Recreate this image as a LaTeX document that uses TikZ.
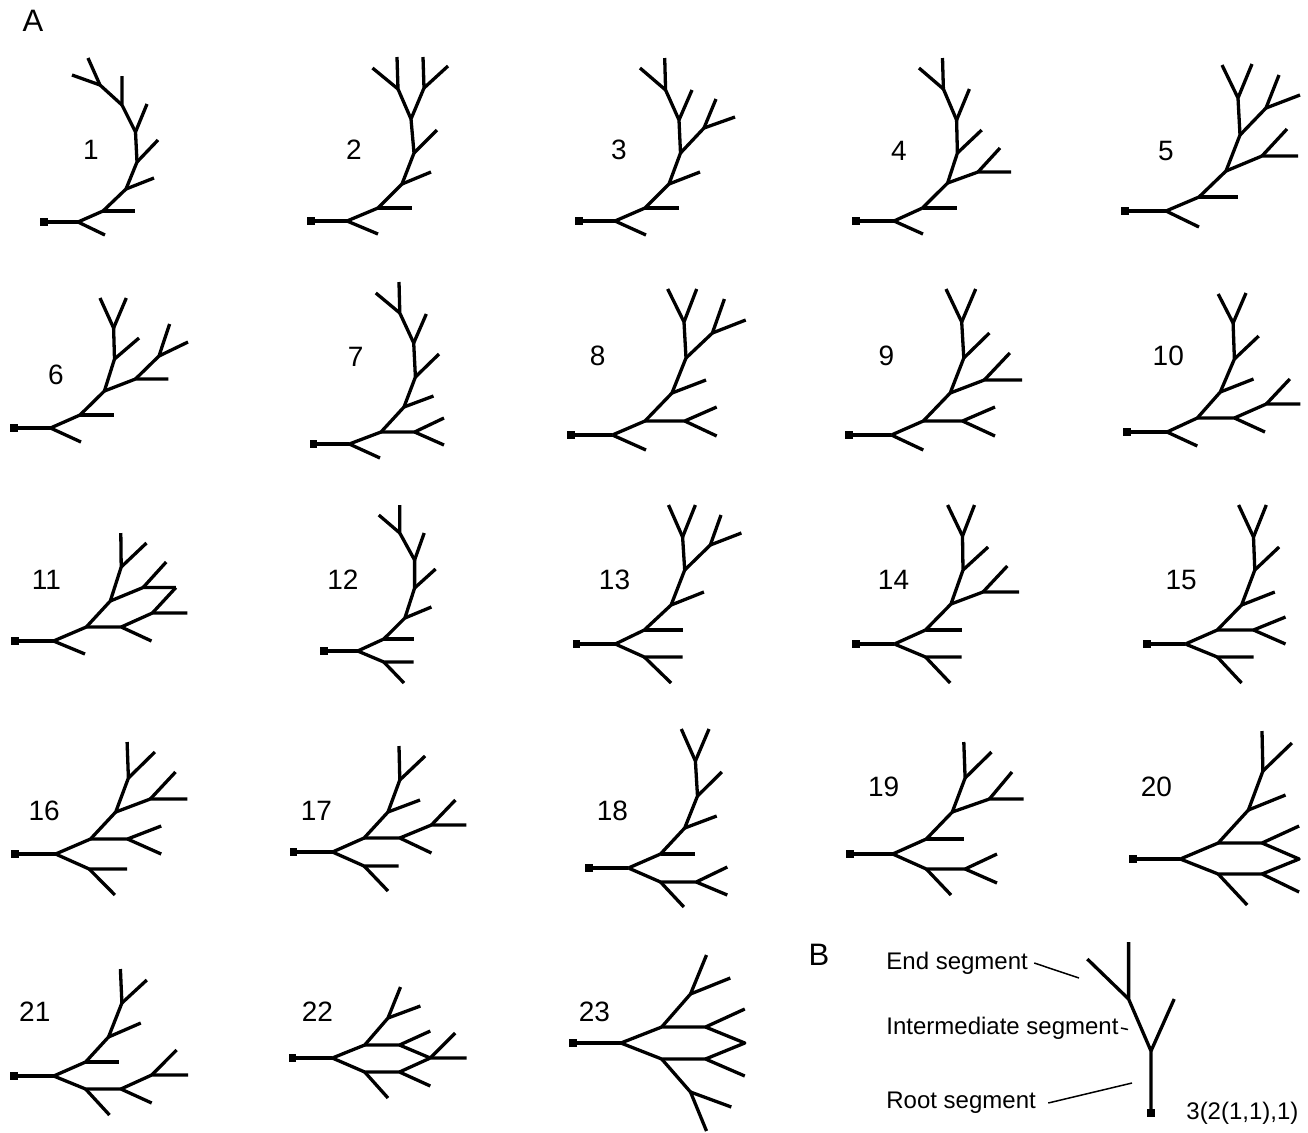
\documentclass[tikz,border=0pt]{standalone}
\usepackage{fontspec}
\setmainfont{Liberation Sans}
\begin{document}
\begin{tikzpicture}[x=0.5pt,y=-0.5pt,
  br/.style={line width=1.65pt,line join=round,line cap=butt},
  rt/.style={line width=2pt},
  sq/.style={fill=black,draw=none,inner sep=0pt,minimum size=3.8pt},
  num/.style={font=\fontsize{14}{14}\selectfont,inner sep=0pt},
  panel/.style={font=\fontsize{15.5}{15.5}\selectfont,inner sep=0pt},
  lab/.style={font=\fontsize{12}{12}\selectfont,inner sep=0pt,anchor=west},
  lead/.style={line width=0.75pt}]
\useasboundingbox (0,0) rectangle (1308,1132);
\node[panel] (pA) at (33,21) {A};
\node[panel] (pB) at (819,955) {B};
% ---------- Tree 1
\node[num] (l1) at (91,150) {1};
\node[sq] (s1) at (44,222) {};
\draw[rt] (s1.center) -- (78,222);
\draw[br] (78,222) -- (103,211) -- (126,189) -- (137,162) -- (135.5,132) -- (122,105) -- (122,76);
\draw[br] (78,222) -- (105,235);
\draw[br] (103,211) -- (135,211);
\draw[br] (126,189) -- (154,178);
\draw[br] (137,162) -- (158,140);
\draw[br] (135.5,132) -- (147,104);
\draw[br] (122,105) -- (100,85) -- (88,58);
\draw[br] (100,85) -- (72,75);
% ---------- Tree 2
\node[num] (l2) at (354,150) {2};
\node[sq] (s2) at (311,221) {};
\draw[rt] (s2.center) -- (347,221);
\draw[br] (347,221) -- (378,208) -- (402,184) -- (414,153) -- (411,119) -- (398,89) -- (397,57);
\draw[br] (347,221) -- (378,234);
\draw[br] (378,208) -- (412,208);
\draw[br] (402,184) -- (431,172);
\draw[br] (414,153) -- (437,130);
\draw[br] (411,119) -- (424,88) -- (423,57);
\draw[br] (424,88) -- (448,66);
\draw[br] (398,89) -- (372.5,68);
% ---------- Tree 3
\node[num] (l3) at (619,150) {3};
\node[sq] (s3) at (579,221) {};
\draw[rt] (s3.center) -- (615,221);
\draw[br] (615,221) -- (645,208) -- (669,184) -- (680.5,153) -- (679,120) -- (665.6,90) -- (664.7,58);
\draw[br] (615,221) -- (646,235);
\draw[br] (645,208) -- (679,208);
\draw[br] (669,184) -- (700,172);
\draw[br] (680.5,153) -- (704,128) -- (716,99);
\draw[br] (704,128) -- (735,117);
\draw[br] (679,120) -- (692,90);
\draw[br] (665.6,90) -- (640,68);
% ---------- Tree 4
\node[num] (l4) at (899,151) {4};
\node[sq] (s4) at (856,221) {};
\draw[rt] (s4.center) -- (894,221);
\draw[br] (894,221) -- (922.5,208) -- (947.6,183) -- (957.4,153) -- (956.6,120) -- (943.4,89) -- (942.5,58);
\draw[br] (894,221) -- (923,234);
\draw[br] (922.5,208) -- (956.6,208);
\draw[br] (947.6,183) -- (978,172) -- (1011,172);
\draw[br] (978,172) -- (1000,148);
\draw[br] (957.4,153) -- (981.7,130);
\draw[br] (956.6,120) -- (969.4,89);
\draw[br] (943.4,89) -- (919,68);
% ---------- Tree 5
\node[num] (l5) at (1166,151) {5};
\node[sq] (s5) at (1125,211) {};
\draw[rt] (s5.center) -- (1166,211);
\draw[br] (1166,211) -- (1199,197) -- (1226,171) -- (1240,135) -- (1238,98) -- (1222,65);
\draw[br] (1166,211) -- (1199,227);
\draw[br] (1199,197) -- (1238,197);
\draw[br] (1226,171) -- (1262,156) -- (1298,156);
\draw[br] (1262,156) -- (1287,129);
\draw[br] (1240,135) -- (1266,108) -- (1279,75);
\draw[br] (1266,108) -- (1300,95);
\draw[br] (1238,98) -- (1252,64);
% ---------- Tree 6
\node[num] (l6) at (56,375) {6};
\node[sq] (s6) at (14,428) {};
\draw[rt] (s6.center) -- (50.5,428);
\draw[br] (50.5,428) -- (80,415) -- (104.4,391) -- (114.5,359) -- (113.6,328) -- (100,298);
\draw[br] (50.5,428) -- (81,442);
\draw[br] (80,415) -- (113.6,415);
\draw[br] (104.4,391) -- (135.5,379) -- (168.4,379);
\draw[br] (135.5,379) -- (159,356) -- (169.6,324);
\draw[br] (159,356) -- (188,342);
\draw[br] (114.5,359) -- (139,338);
\draw[br] (113.6,328) -- (126.3,298);
% ---------- Tree 7
\node[num] (l7) at (355.6,357) {7};
\node[sq] (s7) at (313.6,444) {};
\draw[rt] (s7.center) -- (349.3,444);
\draw[br] (349.3,444) -- (381,432) -- (404,407) -- (415.4,377) -- (413.7,343) -- (399.8,313) -- (399,282);
\draw[br] (349.3,444) -- (380,458);
\draw[br] (381,432) -- (414.6,432) -- (444,418);
\draw[br] (414.6,432) -- (444,445);
\draw[br] (404,407) -- (433.5,396);
\draw[br] (415.4,377) -- (439,354);
\draw[br] (413.7,343) -- (426.3,314);
\draw[br] (399.8,313) -- (375.8,293);
% ---------- Tree 8
\node[num] (l8) at (597.6,356) {8};
\node[sq] (s8) at (571,435) {};
\draw[rt] (s8.center) -- (612.4,435);
\draw[br] (612.4,435) -- (645,421) -- (672,393) -- (686,358) -- (684,322) -- (667.7,289);
\draw[br] (612.4,435) -- (646,450);
\draw[br] (645,421) -- (684.7,421) -- (716.7,407);
\draw[br] (684.7,421) -- (716.7,436);
\draw[br] (672,393) -- (706,380);
\draw[br] (686,358) -- (712.4,333) -- (724.4,299);
\draw[br] (712.4,333) -- (745.7,320);
\draw[br] (684,322) -- (696.7,289);
% ---------- Tree 9
\node[num] (l9) at (886.3,356) {9};
\node[sq] (s9) at (849,435) {};
\draw[rt] (s9.center) -- (891.4,435);
\draw[br] (891.4,435) -- (923.3,421) -- (950.2,393) -- (963.8,358) -- (961.7,322) -- (946,289);
\draw[br] (891.4,435) -- (923.3,450);
\draw[br] (923.3,421) -- (962.5,421) -- (995,407);
\draw[br] (962.5,421) -- (995,436);
\draw[br] (950.2,393) -- (984.3,380) -- (1022,380);
\draw[br] (984.3,380) -- (1009.8,353);
\draw[br] (963.8,358) -- (989.4,333);
\draw[br] (961.7,322) -- (975.7,289);
% ---------- Tree 10
\node[num] (l10) at (1168.3,356) {10};
\node[sq] (s10) at (1127,432) {};
\draw[rt] (s10.center) -- (1167,432);
\draw[br] (1167,432) -- (1197.3,418) -- (1220.3,392) -- (1234.4,359) -- (1233.1,323) -- (1218.2,294);
\draw[br] (1167,432) -- (1197.3,446);
\draw[br] (1197.3,418) -- (1234.4,418) -- (1265,432);
\draw[br] (1234.4,418) -- (1266.3,404) -- (1300.4,404);
\draw[br] (1266.3,404) -- (1289.8,379);
\draw[br] (1220.3,392) -- (1253.5,379);
\draw[br] (1234.4,359) -- (1258.7,336);
\draw[br] (1233.1,323) -- (1246,293);
% ---------- Tree 11
\node[num] (l11) at (46.3,580) {11};
\node[sq] (s11) at (14.7,641) {};
\draw[rt] (s11.center) -- (53.5,641);
\draw[br] (53.5,641) -- (86.3,627) -- (110.3,601) -- (121.2,567) -- (120.8,533);
\draw[br] (53.5,641) -- (85,654);
\draw[br] (86.3,627) -- (121.2,627) -- (151.5,641);
\draw[br] (121.2,627) -- (152.4,613) -- (187.3,613);
\draw[br] (152.4,613) -- (175.9,587.5);
\draw[br] (110.3,601) -- (143.1,587.5) -- (175.9,587.5);
\draw[br] (143.1,587.5) -- (166.2,562);
\draw[br] (121.2,567) -- (146.5,543);
% ---------- Tree 12
\node[num] (l12) at (343,580) {12};
\node[sq] (s12) at (324,651) {};
\draw[rt] (s12.center) -- (357.7,651);
\draw[br] (357.7,651) -- (383.8,639) -- (404.9,618) -- (414.6,588) -- (414.6,560) -- (399.8,533) -- (399.8,505);
\draw[br] (357.7,651) -- (383.8,662) -- (413.7,662);
\draw[br] (383.8,662) -- (404,683);
\draw[br] (383.8,639) -- (413.7,639);
\draw[br] (404.9,618) -- (431.4,607);
\draw[br] (414.6,588) -- (435.6,569);
\draw[br] (414.6,560) -- (424.2,533);
\draw[br] (399.8,533) -- (378.8,515);
% ---------- Tree 13
\node[num] (l13) at (614.5,580) {13};
\node[sq] (s13) at (576.6,644) {};
\draw[rt] (s13.center) -- (615.3,644);
\draw[br] (615.3,644) -- (644.3,630) -- (671.1,605) -- (684.7,570) -- (682.6,537) -- (668.5,505);
\draw[br] (615.3,644) -- (644.3,657) -- (682.6,657);
\draw[br] (644.3,657) -- (671.1,683);
\draw[br] (644.3,630) -- (682.6,630);
\draw[br] (671.1,605) -- (703.9,592);
\draw[br] (684.7,570) -- (710.3,545) -- (721,515);
\draw[br] (710.3,545) -- (741.4,533);
\draw[br] (682.6,537) -- (695.4,505);
% ---------- Tree 14
\node[num] (l14) at (893.5,580) {14};
\node[sq] (s14) at (856,644) {};
\draw[rt] (s14.center) -- (894.4,644);
\draw[br] (894.4,644) -- (925.5,630) -- (951,604) -- (963,570) -- (962.5,536) -- (947.6,505);
\draw[br] (894.4,644) -- (925.5,657) -- (961.7,657);
\draw[br] (925.5,657) -- (950.2,683);
\draw[br] (925.5,630) -- (961.7,630);
\draw[br] (951,604) -- (983,592) -- (1019.2,592);
\draw[br] (983,592) -- (1007.3,566);
\draw[br] (963,570) -- (988.1,547);
\draw[br] (962.5,536) -- (974.5,505);
% ---------- Tree 15
\node[num] (l15) at (1181.1,580) {15};
\node[sq] (s15) at (1147,644) {};
\draw[rt] (s15.center) -- (1185.4,644);
\draw[br] (1185.4,644) -- (1217.3,630) -- (1241.6,605) -- (1254.8,570) -- (1253.5,537) -- (1238.6,505);
\draw[br] (1185.4,644) -- (1217.3,657) -- (1253.5,657);
\draw[br] (1217.3,657) -- (1241.6,683);
\draw[br] (1217.3,630) -- (1253.5,630) -- (1285.5,617);
\draw[br] (1253.5,630) -- (1285.5,644);
\draw[br] (1241.6,605) -- (1274.8,592);
\draw[br] (1254.8,570) -- (1279.1,547);
\draw[br] (1253.5,537) -- (1266.3,505);
% ---------- Tree 16
\node[num] (l16) at (44.2,811) {16};
\node[sq] (s16) at (14.7,854) {};
\draw[rt] (s16.center) -- (55.6,854);
\draw[br] (55.6,854) -- (90.5,839) -- (115.7,812) -- (128.4,778) -- (127.1,742);
\draw[br] (55.6,854) -- (89.2,869) -- (127.1,869);
\draw[br] (89.2,869) -- (114.9,895);
\draw[br] (90.5,839) -- (127.5,839) -- (161.2,826);
\draw[br] (127.5,839) -- (161.2,854);
\draw[br] (115.7,812) -- (150.3,799) -- (187.3,799);
\draw[br] (150.3,799) -- (175.5,772);
\draw[br] (128.4,778) -- (154.9,752);
% ---------- Tree 17
\node[num] (l17) at (316.5,810.7) {17};
\node[sq] (s17) at (293.4,852) {};
\draw[rt] (s17.center) -- (332.5,852);
\draw[br] (332.5,852) -- (364.1,838) -- (388,812) -- (399.8,780) -- (399,746);
\draw[br] (332.5,852) -- (364.1,866) -- (398.6,866);
\draw[br] (364.1,866) -- (388,891);
\draw[br] (364.1,838) -- (399.8,838) -- (431.4,853);
\draw[br] (399.8,838) -- (431.4,825) -- (466.3,825);
\draw[br] (431.4,825) -- (455.4,800);
\draw[br] (388,812) -- (420,800);
\draw[br] (399.8,780) -- (425.1,756);
% ---------- Tree 18
\node[num] (l18) at (612.4,811) {18};
\node[sq] (s18) at (589.2,868) {};
\draw[rt] (s18.center) -- (628.4,868);
\draw[br] (628.4,868) -- (660.5,854) -- (684.7,828) -- (697.5,796) -- (695.4,761) -- (681.3,729);
\draw[br] (628.4,868) -- (660.5,882) -- (696.2,882) -- (727.3,867);
\draw[br] (696.2,882) -- (727.3,895);
\draw[br] (660.5,882) -- (683.9,907);
\draw[br] (660.5,854) -- (695.4,854);
\draw[br] (684.7,828) -- (716.7,816);
\draw[br] (697.5,796) -- (721.8,772);
\draw[br] (695.4,761) -- (709,729);
% ---------- Tree 19
\node[num] (l19) at (883.7,786.7) {19};
\node[sq] (s19) at (850,854) {};
\draw[rt] (s19.center) -- (892.7,854);
\draw[br] (892.7,854) -- (926.3,839) -- (952.3,812) -- (965.1,778) -- (963.8,742);
\draw[br] (892.7,854) -- (926.3,869) -- (965.1,869) -- (997,854);
\draw[br] (965.1,869) -- (997,883);
\draw[br] (926.3,869) -- (951,895);
\draw[br] (926.3,839) -- (963.8,839);
\draw[br] (952.3,812) -- (989.4,799) -- (1023.5,799);
\draw[br] (989.4,799) -- (1012,772);
\draw[br] (965.1,778) -- (991.5,752);
% ---------- Tree 20
\node[num] (l20) at (1156.4,786.7) {20};
\node[sq] (s20) at (1133,859) {};
\draw[rt] (s20.center) -- (1180.3,859);
\draw[br] (1180.3,859) -- (1218.2,843) -- (1248.4,810) -- (1262.9,771) -- (1262,731);
\draw[br] (1180.3,859) -- (1218.2,874) -- (1262,874) -- (1299.1,892);
\draw[br] (1262,874) -- (1299.1,859) -- (1262,843);
\draw[br] (1218.2,874) -- (1247.2,905);
\draw[br] (1218.2,843) -- (1262,843) -- (1299.1,826);
\draw[br] (1248.4,810) -- (1285.5,795);
\draw[br] (1262.9,771) -- (1291.9,743);
% ---------- Tree 21
\node[num] (l21) at (34.8,1011.7) {21};
\node[sq] (s21) at (13.9,1076) {};
\draw[rt] (s21.center) -- (53.7,1076);
\draw[br] (53.7,1076) -- (85.6,1062) -- (108.5,1037) -- (121.9,1003) -- (120.4,969);
\draw[br] (53.7,1076) -- (85.6,1089) -- (120.9,1089) -- (151.7,1103);
\draw[br] (120.9,1089) -- (151.7,1075) -- (188,1075);
\draw[br] (151.7,1075) -- (176.6,1050);
\draw[br] (85.6,1089) -- (109.5,1115);
\draw[br] (85.6,1062) -- (119.4,1062);
\draw[br] (108.5,1037) -- (140.8,1023);
\draw[br] (121.9,1003) -- (146.8,980);
% ---------- Tree 22
\node[num] (l22) at (317.4,1011.7) {22};
\node[sq] (s22) at (292.5,1058) {};
\draw[rt] (s22.center) -- (332.3,1058);
\draw[br] (332.3,1058) -- (364.7,1045) -- (388,1018) -- (400.5,987);
\draw[br] (332.3,1058) -- (364.7,1072) -- (399.5,1072) -- (430.3,1086);
\draw[br] (399.5,1072) -- (430.3,1058) -- (466.7,1058);
\draw[br] (364.7,1072) -- (388,1098);
\draw[br] (364.7,1045) -- (399.5,1045) -- (430.3,1031);
\draw[br] (399.5,1045) -- (430.3,1058);
\draw[br] (430.3,1058) -- (455.2,1033);
\draw[br] (388,1018) -- (420.4,1006);
% ---------- Tree 23
\node[num] (l23) at (594.5,1011.7) {23};
\node[sq] (s23) at (573.1,1043) {};
\draw[rt] (s23.center) -- (620.9,1043);
\draw[br] (620.9,1043) -- (661.7,1027) -- (705.5,1027) -- (744.8,1009);
\draw[br] (705.5,1027) -- (744.8,1043) -- (705.5,1059);
\draw[br] (620.9,1043) -- (661.7,1059) -- (705.5,1059) -- (744.8,1076);
\draw[br] (661.7,1027) -- (690.5,994) -- (706.5,955);
\draw[br] (690.5,994) -- (730.3,978);
\draw[br] (661.7,1059) -- (690.5,1092) -- (706.5,1131);
\draw[br] (690.5,1092) -- (731.3,1107);
% ---------- Panel B
\node[sq] (sB) at (1151,1113) {};
\draw[br] (sB.center) -- (1151,1051) -- (1128.6,999) -- (1128.6,942);
\draw[br] (1151,1051) -- (1174.2,999);
\draw[br] (1128.6,999) -- (1087.3,959);
\node[lab] (tEnd) at (886,963) {End segment};
\node[lab] (tInt) at (886,1028) {Intermediate segment};
\node[lab] (tRoot) at (886,1103) {Root segment};
\node[lab] (tCode) at (1186,1113) {3(2(1,1),1)};
\coordinate (cEnd) at (1079,978);
\coordinate (cInt) at (1128,1029.5);
\coordinate (cRoot) at (1132,1083);
\draw[lead] ([xshift=3pt]tEnd.east) -- (cEnd);
\draw[lead] ([xshift=1pt]tInt.east) -- (cInt);
\draw[lead] ([xshift=6pt]tRoot.east) -- (cRoot);
\end{tikzpicture}
\end{document}
